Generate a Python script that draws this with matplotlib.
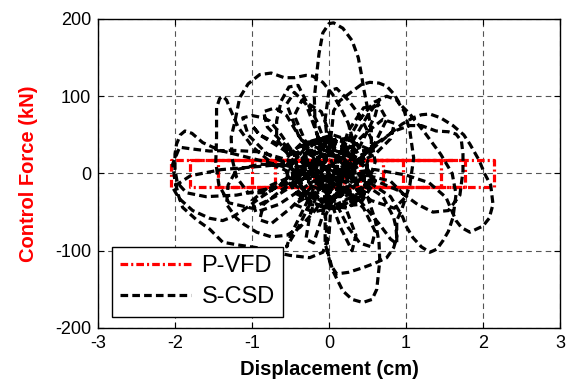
import matplotlib
matplotlib.use("Agg")
import matplotlib.pyplot as plt

plt.rcParams["font.family"] = ["Liberation Sans", "DejaVu Sans"]
plt.rcParams["lines.scale_dashes"] = False
plt.rcParams["axes.unicode_minus"] = False

# P-VFD: friction-like loops, displacement at each reversal and the force level (kN)
pvfd_turns = [-2.05, 2.14, -1.80, 1.77, -1.44, 1.45, -1.00, 0.96, -0.70, 0.70,
              -0.40, 0.40, -0.20, 0.20, 0.00]
pvfd_level = 17.0

# S-CSD: hysteresis trace (cm, kN)
scsd_disp = [
    0.00, -0.10, -0.18, -0.19, -0.16, -0.13, -0.08, 0.00, 0.06, 0.18, 0.30, 0.38, 0.42, 0.45, 0.50, 0.55, 0.55, 0.45, 0.30, 0.10, -0.10,
    -0.30, -0.20, 0.10, 0.25, 0.05, -0.30,
    -0.45, -0.90, -1.25, -1.55, -1.80, -1.94, -2.03, -2.00, -1.95, -1.90, -1.72, -1.55, -1.38, -1.15, -0.94, -0.70, -0.51, -0.25, -0.08, 0.00, 0.02, -0.05,
    0.20, 0.35, 0.10, -0.25, -0.40,
    -0.80, -1.20, -1.60, -1.85, -1.97, -2.00, -2.00, -1.98, -1.93, -1.87, -1.78, -1.64, -1.42, -1.10, -0.70, -0.30,
    0.10, 0.40, 0.55, 0.40, 0.00,
    -0.40, -0.80, -1.05, -1.20, -1.26, -1.27, -1.22, -1.16, -1.05, -0.90, -0.75, -0.58, -0.45, -0.30, -0.21, -0.08, 0.05, 0.15, 0.25, 0.32, 0.33, 0.20, 0.00,
    -0.05, -0.03, -0.01, 0.05, 0.18, 0.30, 0.44, 0.56, 0.62, 0.66, 0.65, 0.60, 0.50, 0.30, 0.05,
    -0.30, -0.70, -1.00, -1.30, -1.43, -1.47, -1.46, -1.46, -1.42, -1.38, -1.33, -1.29, -1.18, -1.00, -0.70, -0.35,
    0.00, 0.30, 0.20, -0.15, -0.35,
    -0.10, 0.00, 0.04, 0.06, 0.14, 0.31, 0.42, 0.53, 0.65, 0.75, 0.85, 0.92, 1.05, 1.25, 1.45, 1.60, 1.65, 1.61, 1.55, 1.48, 1.40, 1.31, 1.20, 1.09, 1.00, 0.96, 0.80, 0.50, 0.20,
    0.40, 0.60, 0.80, 0.95, 1.09, 1.20, 1.31, 1.45, 1.61, 1.75, 1.83, 1.95, 2.02, 2.10, 2.13, 2.08, 2.00, 1.83, 1.72, 1.65, 1.58, 1.52, 1.30, 1.00, 0.60, 0.20,
    -0.20, -0.45, -0.20, 0.20, 0.40,
    0.10, -0.05, -0.05, 0.02, 0.10, 0.25, 0.44, 0.60, 0.75, 0.84, 0.88, 0.87, 0.84, 0.70, 0.40, 0.00,
    -0.50, -0.90, -1.20, -1.31, -1.33, -1.20, -1.10, -0.94, -0.75, -0.55, -0.38, -0.20, 0.00,
    0.30, 0.60, 0.85, 1.05, 1.20, 1.39, 1.55, 1.65, 1.72, 1.74, 1.74, 1.70, 1.55, 1.35, 1.15, 0.90, 0.50, 0.10,
    -0.30, -0.80, -1.40, -1.80, -2.03, -1.95, -1.77, -1.55, -1.38, -1.25, -1.12, -0.90, -0.60, -0.25,
    -0.50, -0.68, -0.68, -0.62, -0.52, -0.40, -0.32, -0.22, -0.16, -0.05, 0.05,
    0.20, 0.40, 0.58, 0.75, 0.88, 0.98, 1.05, 1.10, 1.05, 0.95, 0.88, 0.88, 0.80, 0.65, 0.40, 0.10,
    -0.40, -0.80, -1.05, -1.12, -1.00, -0.85, -0.77, -0.62, -0.45, -0.20,
    0.00, -0.05, 0.00, 0.10, 0.25, 0.40, 0.55, 0.60, 0.50, 0.20,
    -0.20, -0.55, -0.80, -0.85, -0.70, -0.55, -0.40, -0.20,
    0.10, 0.45, 0.60, 0.55, 0.40, 0.25, 0.10, -0.05,
    -0.15, -0.50, -0.75, -0.90, -0.85, -0.60, -0.30,
    0.10, 0.45, 0.70, 0.85, 0.80, 0.60, 0.30,
    0.00, -0.30, -0.45, -0.35, -0.10, 0.05,
    0.20, 0.35, 0.30, 0.15, 0.00,
    -0.10, -0.30, -0.50, -0.55, -0.40, -0.20,
    0.05, 0.30, 0.50, 0.65, 0.60, 0.40, 0.10,
    -0.10, -0.40, -0.55, -0.45, -0.30, -0.15, 0.00,
    0.10, 0.25, 0.45, 0.65, 0.75, 0.60, 0.30,
    -0.20, -0.65, -0.95, -1.00, -0.75, -0.40,
    0.20, 0.55, 0.85, 1.00, 0.80, 0.40,
    -0.10, -0.25, -0.30, -0.20, -0.10, 0.00,
    -0.50, -0.90, -1.00, -0.90, -0.50,
    0.55, 0.20, -0.35, -0.60, -0.45, -0.05, 0.40, 0.60, 0.35, -0.10, -0.50, -0.55, -0.20, 0.25, 0.50, 0.30, -0.15, -0.45, -0.35, 0.05,
    0.45, 0.50, 0.15, -0.25, -0.50, -0.30, 0.10, 0.40, 0.30, -0.05, -0.35, -0.25, 0.10, 0.30, 0.20, -0.10, -0.25, -0.10, 0.15, 0.20,
    -0.20, -0.45, -0.50, -0.30, 0.05, 0.35, 0.50, 0.40, 0.10, -0.25, -0.40, -0.30, 0.00, 0.30, 0.35, 0.15, -0.15, -0.30, -0.20, 0.05, 0.20, 0.15, -0.05, -0.15, -0.05, 0.08, 0.05, -0.05, 0.00,
]
scsd_force = [
    0, 30, 60, 98, 128, 155, 182, 194, 195, 188, 172, 150, 129, 110, 85, 55, 30, 0, -20, -30, -20,
    10, 35, 25, -10, -35, -30,
    15, 28, 30, 29, 32, 34, 12, -10, -30, -44, -60, -72, -89, -93, -96, -102, -106, -109, -102, -80, -50, -20,
    5, 30, 45, 25, -10,
    -20, -28, -30, -25, -12, 5, 25, 38, 50, 55, 52, 40, 30, 22, 12, 0,
    -15, -35, -10, 20, 30,
    0, -25, -25, -5, 20, 47, 68, 98, 116, 128, 130, 124, 124, 127, 126, 118, 102, 85, 65, 40, 10, -15, -25,
    -45, -80, -104, -126, -152, -163, -167, -163, -150, -113, -90, -60, -30, -5, 10,
    -5, -30, -45, -38, -15, 15, 47, 85, 97, 100, 95, 85, 60, 35, 10, -5,
    -10, 15, 40, 45, 20,
    0, 30, 60, 81, 94, 107, 115, 118, 117, 113, 102, 90, 77, 52, 25, 0, -27, -57, -75, -87, -98, -102, -95, -83, -68, -57, -30, -10, 0,
    20, 35, 52, 64, 72, 76, 77, 72, 62, 50, 38, 17, 0, -15, -40, -58, -68, -76, -70, -61, -45, -31, -12, -2, 5, 0,
    -25, -40, -50, -40, -20,
    -25, -55, -90, -118, -130, -128, -122, -116, -109, -96, -83, -70, -57, -30, -10, 5,
    10, 12, 5, -15, -40, -58, -66, -76, -82, -80, -70, -50, -25,
    10, 38, 55, 62, 62, 55, 54, 51, 42, 25, 3, -28, -48, -50, -40, -22, -5, 5,
    15, 10, 5, -3, -18, -32, -48, -58, -61, -56, -48, -32, -12, 0,
    20, 45, 68, 94, 112, 114, 98, 80, 68, 40, 10,
    35, 70, 92, 100, 95, 80, 55, 20, -15, -45, -61, -91, -85, -65, -35, -15,
    5, 25, 50, 72, 75, 72, 68, 50, 25, 5,
    20, 70, 107, 110, 95, 75, 45, 15, -15, -30,
    10, 35, 60, 80, 85, 75, 50, 20,
    -10, -45, -75, -95, -90, -70, -40, -15,
    -10, -45, -65, -60, -40, -20, -5,
    15, 50, 70, 65, 45, 25, 10,
    0, 40, 75, 95, 80, 40,
    -40, -80, -100, -70, -30,
    0, -40, -80, -95, -70, -30,
    0, 40, 75, 95, 75, 35, 0,
    10, 50, 90, 105, 90, 50, 10,
    10, 55, 85, 88, 70, 40, 10,
    -10, -40, -50, -35, -15, 0,
    -10, -35, -45, -30, -10, 0,
    -10, -55, -85, -90, -60, -20,
    30, 50, 62, 50, 25,
    30, 45, 40, 15, -25, -45, -40, -10, 30, 45, 30, -10, -40, -45, -20, 20, 40, 25, -20, -45,
    -30, 5, 35, 40, 10, -25, -40, -25, 10, 30, 20, -15, -30, -10, 20, 25, 5, -20, -20, 5,
    -30, -15, 15, 40, 50, 40, 10, -30, -45, -40, -10, 25, 35, 25, -5, -30, -30, -5, 20, 25, 10, -15, -20, 0, 15, 8, -8, -5, 0,
]

x_ticks = [-3, -2, -1, 0, 1, 2, 3]
y_ticks = [-200, -100, 0, 100, 200]

# build the rectangular P-VFD path from its reversal points
pvfd_x = []
pvfd_y = []
sign = -1.0
for xt in pvfd_turns:
    pvfd_x.append(xt)
    pvfd_y.append(sign * pvfd_level)
    sign = -sign
    pvfd_x.append(xt)
    pvfd_y.append(sign * pvfd_level)

fig = plt.figure(figsize=(5.66, 3.92), dpi=100)
ax = fig.add_axes([0.1731, 0.1633, 0.8163, 0.7883])

ax.plot(pvfd_x, pvfd_y, color="red", linewidth=2.3,
        linestyle=(0, (5.5, 2.2, 1.5, 2.2)), label="P-VFD")
ax.plot(scsd_disp, scsd_force, color="black", linewidth=2.3,
        linestyle=(0, (5.5, 3)), label="S-CSD")

ax.set_xlim(-3, 3)
ax.set_ylim(-200, 200)
ax.set_xticks(x_ticks)
ax.set_yticks(y_ticks)
ax.grid(True, color="#555555", linestyle=(0, (4, 3)), linewidth=0.8)
ax.tick_params(direction="in", top=True, right=True, length=4, labelsize=13, pad=5)
for s in ax.spines.values():
    s.set_linewidth(1.0)

ax.set_xlabel("Displacement (cm)", fontsize=14.5, fontweight="bold", labelpad=6)
ax.set_ylabel("Control Force (kN)", fontsize=14.5, fontweight="bold", color="red", labelpad=12)

leg = ax.legend(loc="lower left", bbox_to_anchor=(0.03, 0.037), borderaxespad=0,
                fontsize=17, handlelength=3.0, handletextpad=0.45, labelspacing=0.4,
                borderpad=0.35, fancybox=False, framealpha=1, edgecolor="black")
leg.get_frame().set_linewidth(1.0)

fig.savefig("out.png", dpi=100)
